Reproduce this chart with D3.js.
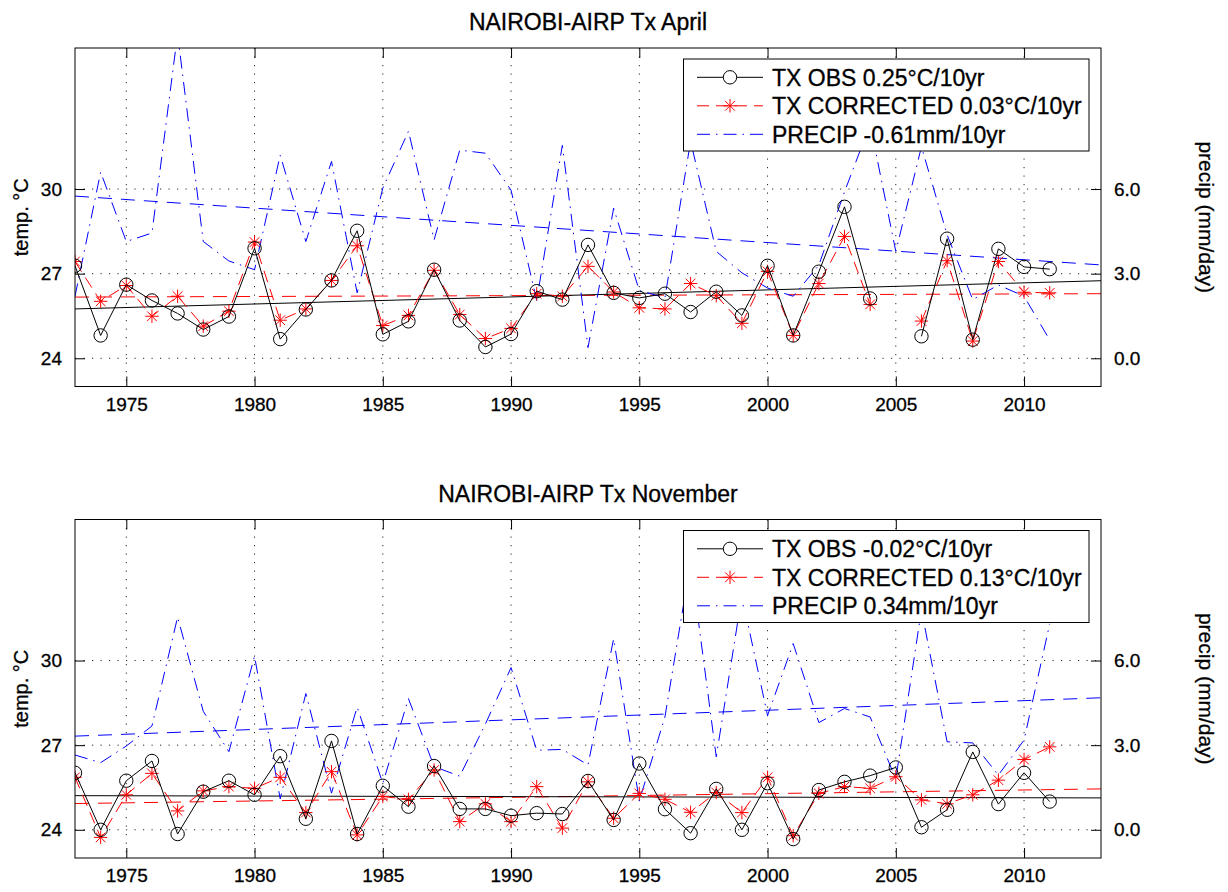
<!DOCTYPE html>
<html>
<head>
<meta charset="utf-8">
<script src="https://cdn.jsdelivr.net/npm/d3@7/dist/d3.min.js"></script>
<style>
  html, body { margin: 0; padding: 0; background: #fff; }
  svg { display: block; font-family: "Liberation Sans", Arial, Helvetica, sans-serif; }
  text { fill: #000; stroke: #000; stroke-width: 0.3px; }
</style>
</head>
<body>
<svg id="chart" width="1228" height="892"></svg>
<script>
// Years of record
const years = [1973, 1974, 1975, 1976, 1977, 1978, 1979, 1980, 1981, 1982,
               1983, 1984, 1985, 1986, 1987, 1988, 1989, 1990, 1991, 1992,
               1993, 1994, 1995, 1996, 1997, 1998, 1999, 2000, 2001, 2002,
               2003, 2004, 2005, 2006, 2007, 2008, 2009, 2010, 2011];

// April: mean daily maximum temperature (°C) and precipitation (mm/day)
const aprilObs = [27.28, 24.81, 26.61, 26.05, 25.59, 25.02, 25.48, 27.90, 24.68, 25.73,
                  26.76, 28.52, 24.85, 25.31, 27.14, 25.34, 24.40, 24.86, 26.38, 26.08,
                  28.02, 26.32, 26.14, 26.29, 25.64, 26.36, 25.52, 27.28, 24.81, 27.07,
                  29.37, 26.12, null, 24.78, 28.24, 24.66, 27.88, 27.24, 27.16];
const aprilCorr = [27.43, 26.02, 26.58, 25.49, 26.20, 25.14, 25.67, 28.12, 25.35, 25.75,
                   26.76, 27.99, 25.16, 25.52, 27.12, 25.55, 24.70, 25.06, 26.29, 26.20,
                   27.26, 26.35, 25.79, 25.75, 26.65, 26.22, 25.24, 27.08, 24.81, 26.65,
                   28.32, 25.91, null, 25.32, 27.46, 24.61, 27.43, 26.34, 26.32];
const aprilPrecip = [2.20, 6.60, 4.14, 4.44, 11.50, 4.14, 3.45, 3.14, 7.20, 4.14,
                     6.98, 2.32, 6.03, 8.05, 4.20, 7.38, 7.27, 5.96, 2.05, 7.55,
                     0.38, 5.32, 2.40, 2.15, 7.70, 3.79, 3.03, 2.49, 2.20, 3.30,
                     5.90, 8.30, 3.79, 7.50, 4.38, 2.08, 2.60, 2.20, 0.65];

// November: mean daily maximum temperature (°C) and precipitation (mm/day)
const novObs = [26.02, 24.00, 25.74, 26.44, 23.85, 25.35, 25.74, 25.24, 26.61, 24.39,
                27.15, 23.85, 25.56, 24.82, 26.26, 24.74, 24.74, 24.50, 24.59, 24.56,
                25.73, 24.35, 26.35, 24.73, 23.88, 25.45, 24.00, 25.65, 23.67, 25.41,
                25.70, 25.92, 26.21, 24.09, 24.71, 26.76, 24.91, 26.02, 25.00];
const novCorr = [25.86, 23.73, 25.24, 26.00, 24.67, 25.38, 25.53, 25.47, 25.86, 24.61,
                 26.06, 23.82, 25.18, 25.08, 26.12, 24.29, 24.92, 24.29, 25.53, 24.06,
                 25.70, 24.41, 25.29, 25.08, 24.62, 25.32, 24.61, 25.86, 23.79, 25.29,
                 25.53, 25.47, 25.88, 25.06, 24.92, 25.24, 25.76, 26.49, 26.94];
const novPrecip = [2.65, 2.38, 2.97, 3.68, 7.54, 4.20, 2.77, 6.15, 1.10, 4.83,
                   1.30, 4.35, 1.65, 4.65, 2.24, 1.90, 3.75, 5.75, 2.82, 2.85,
                   2.30, 6.77, 1.03, 4.00, 9.50, 2.59, 8.30, 4.05, 6.60, 3.80,
                   4.30, 4.00, 1.80, 7.80, 3.12, 3.08, 1.94, 3.18, 7.30];

// Linear trends: slope per decade and fitted value in the first year
const aprilTrendSlopes = [0.25, 0.03, -0.61];
const aprilTrendStart  = [25.75, 26.17, 5.75];
const novTrendSlopes   = [-0.02, 0.13, 0.34];
const novTrendStart    = [25.21, 24.93, 3.32];

// Axis ticks
const xTicks = [1975, 1980, 1985, 1990, 1995, 2000, 2005, 2010];
const tempTicks = [24, 27, 30];
const precipTicks = [0, 3, 6];

const panels = [
  { title: "NAIROBI-AIRP Tx April", obs: aprilObs, corr: aprilCorr, precip: aprilPrecip,
    slopes: aprilTrendSlopes, starts: aprilTrendStart, top: 48 },
  { title: "NAIROBI-AIRP Tx November", obs: novObs, corr: novCorr, precip: novPrecip,
    slopes: novTrendSlopes, starts: novTrendStart, top: 519.5 }
];

const svg = d3.select("#chart");
const left = 75, right = 1101, plotH = 338.5;
const x = d3.scaleLinear().domain([1973, 2013]).range([left, right]);
const fmt = v => (v < 0 ? "-" : "") + Math.abs(v).toFixed(2);

// asterisk marker: plus sign overlaid with a diagonal cross
function starPath(s) {
  const d = s * 0.72;
  return `M${-s},0H${s}M0,${-s}V${s}M${-d},${-d}L${d},${d}M${-d},${d}L${d},${-d}`;
}

let clipId = 0;
panels.forEach(p => {
  const top = p.top, bottom = top + plotH;
  const yT = d3.scaleLinear().domain([23, 35]).range([bottom, top]);
  const yP = d3.scaleLinear().domain([-1, 11]).range([bottom, top]);
  const g = svg.append("g");

  const cid = "clip" + (clipId++);
  g.append("clipPath").attr("id", cid).append("rect")
    .attr("x", left).attr("y", top).attr("width", right - left).attr("height", plotH);

  // title
  g.append("text").attr("x", (left + right) / 2).attr("y", top - 18)
    .attr("text-anchor", "middle").attr("font-size", 23).text(p.title);

  // dotted grid
  const grid = g.append("g").attr("stroke", "#000").attr("stroke-width", 1)
    .attr("stroke-dasharray", "1.2,7.3").attr("opacity", 0.85);
  xTicks.forEach(t => grid.append("line")
    .attr("x1", x(t)).attr("x2", x(t)).attr("y1", top).attr("y2", bottom));
  tempTicks.forEach(t => grid.append("line")
    .attr("x1", left).attr("x2", right).attr("y1", yT(t)).attr("y2", yT(t)));

  const plot = g.append("g").attr("clip-path", `url(#${cid})`);

  // trend lines across the full year range
  const trendYears = x.domain();
  const trendPts = (i, yScale) => trendYears.map(yr =>
    [x(yr), yScale(p.starts[i] + p.slopes[i] / 10 * (yr - trendYears[0]))]);
  const line2 = d3.line();
  plot.append("path").attr("d", line2(trendPts(2, yP))).attr("fill", "none")
    .attr("stroke", "#0000ff").attr("stroke-width", 1).attr("stroke-dasharray", "14,9");
  plot.append("path").attr("d", line2(trendPts(1, yT))).attr("fill", "none")
    .attr("stroke", "#ff0000").attr("stroke-width", 1).attr("stroke-dasharray", "14,9");
  plot.append("path").attr("d", line2(trendPts(0, yT))).attr("fill", "none")
    .attr("stroke", "#000").attr("stroke-width", 1);

  // precipitation (right axis)
  const lineP = d3.line().defined(d => d[1] != null)
    .x(d => x(d[0])).y(d => yP(d[1]));
  plot.append("path").attr("d", lineP(years.map((yr, i) => [yr, p.precip[i]])))
    .attr("fill", "none").attr("stroke", "#0000ff").attr("stroke-width", 1)
    .attr("stroke-dasharray", "13,6,1.5,6");

  // corrected Tx
  const lineT = d3.line().defined(d => d[1] != null)
    .x(d => x(d[0])).y(d => yT(d[1]));
  const corrPts = years.map((yr, i) => [yr, p.corr[i]]);
  plot.append("path").attr("d", lineT(corrPts))
    .attr("fill", "none").attr("stroke", "#ff0000").attr("stroke-width", 1)
    .attr("stroke-dasharray", "12,7");
  plot.append("g").selectAll("path").data(corrPts.filter(d => d[1] != null)).join("path")
    .attr("transform", d => `translate(${x(d[0])},${yT(d[1])})`)
    .attr("d", starPath(6.7)).attr("fill", "none").attr("stroke", "#ff0000").attr("stroke-width", 1);

  // observed Tx
  const obsPts = years.map((yr, i) => [yr, p.obs[i]]);
  plot.append("path").attr("d", lineT(obsPts))
    .attr("fill", "none").attr("stroke", "#000").attr("stroke-width", 1);
  plot.append("g").selectAll("circle").data(obsPts.filter(d => d[1] != null)).join("circle")
    .attr("cx", d => x(d[0])).attr("cy", d => yT(d[1])).attr("r", 6.7)
    .attr("fill", "none").attr("stroke", "#000").attr("stroke-width", 1);

  // axes box
  g.append("rect").attr("x", left).attr("y", top).attr("width", right - left).attr("height", plotH)
    .attr("fill", "none").attr("stroke", "#000").attr("stroke-width", 1);

  // inward ticks
  const tickLen = 10;
  const xAxisB = d3.axisBottom(x).tickValues(xTicks).tickFormat(d3.format("d"))
    .tickSizeInner(-tickLen).tickSizeOuter(0).tickPadding(11);
  const gx = g.append("g").attr("transform", `translate(0,${bottom})`).call(xAxisB);
  const xAxisT = d3.axisTop(x).tickValues(xTicks).tickFormat("")
    .tickSizeInner(-tickLen).tickSizeOuter(0);
  const gxt = g.append("g").attr("transform", `translate(0,${top})`).call(xAxisT);

  const yAxisL = d3.axisLeft(yT).tickValues(tempTicks).tickFormat(d3.format("d"))
    .tickSizeInner(-tickLen).tickSizeOuter(0).tickPadding(13);
  const gyl = g.append("g").attr("transform", `translate(${left},0)`).call(yAxisL);
  const yAxisR = d3.axisRight(yP).tickValues(precipTicks).tickFormat(d3.format(".1f"))
    .tickSizeInner(-tickLen).tickSizeOuter(0).tickPadding(13);
  const gyr = g.append("g").attr("transform", `translate(${right},0)`).call(yAxisR);

  [gx, gxt, gyl, gyr].forEach(a => {
    a.select(".domain").remove();
    a.selectAll("line").attr("stroke", "#000");
    a.selectAll("text").attr("font-size", 19).attr("fill", "#000")
      .attr("font-family", "\"Liberation Sans\", Arial, Helvetica, sans-serif");
  });

  // axis titles
  const midY = (top + bottom) / 2;
  g.append("text").attr("transform", `translate(28,${midY}) rotate(-90)`)
    .attr("text-anchor", "middle").attr("font-size", 20).text("temp. °C");
  g.append("text").attr("transform", `translate(1199,${midY}) rotate(90)`)
    .attr("text-anchor", "middle").attr("font-size", 21).text("precip (mm/day)");

  // legend
  const lx = 683.5, ly = top + 11, lw = 405.5, lh = 92;
  const lg = g.append("g");
  lg.append("rect").attr("x", lx).attr("y", ly).attr("width", lw).attr("height", lh)
    .attr("fill", "#fff").attr("stroke", "#000").attr("stroke-width", 1);
  const entries = [
    { label: `TX OBS ${fmt(p.slopes[0])}°C/10yr`, color: "#000", dash: null, marker: "circle" },
    { label: `TX CORRECTED ${fmt(p.slopes[1])}°C/10yr`, color: "#ff0000", dash: "12,7", marker: "star" },
    { label: `PRECIP ${fmt(p.slopes[2])}mm/10yr`, color: "#0000ff", dash: "13,6,1.5,6", marker: null }
  ];
  entries.forEach((e, i) => {
    const ry = ly + 18.3 + i * 28.5;
    lg.append("line").attr("x1", 697).attr("x2", 763).attr("y1", ry).attr("y2", ry)
      .attr("stroke", e.color).attr("stroke-width", 1)
      .attr("stroke-dasharray", e.dash);
    if (e.marker === "circle") {
      lg.append("circle").attr("cx", 730).attr("cy", ry).attr("r", 6.7)
        .attr("fill", "#fff").attr("stroke", "#000");
    } else if (e.marker === "star") {
      lg.append("path").attr("transform", `translate(730,${ry})`).attr("d", starPath(6.7))
        .attr("stroke", "#ff0000").attr("fill", "none");
    }
    lg.append("text").attr("x", 772).attr("y", ry).attr("dy", "0.36em")
      .attr("font-size", 23).text(e.label);
  });
});
</script>
</body>
</html>
